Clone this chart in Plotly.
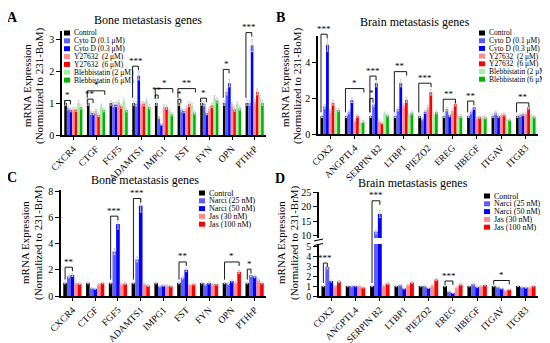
import plotly.graph_objects as go

FONT = "Liberation Serif"
# page body adds an 8px margin, so the figure is drawn 8px smaller and coordinates shifted
OFF = 8
W, H = 550 - OFF, 343 - OFF

bone_genes = ["CXCR4", "CTGF", "FGF5", "ADAMTS1", "IMPG1", "FST", "FYN", "OPN", "PTHrP"]
brain_genes = ["COX2", "ANGPTL4", "SERPIN B2", "LTBP1", "PIEZO2", "EREG", "HBEGF", "ITGAV", "ITGB3"]

ab_series = ["Control", "Cyto D (0.1 μM)", "Cyto D (0.3 μM)", "Y27632  (2 μM)", "Y27632  (6 μM)",
             "Blebbistatin (2 μM)", "Blebbistatin (6 μM)"]
ab_colors = ["#000000", "#5c5cff", "#0000ff", "#ff8c8c", "#ff0000", "#a6f0a6", "#00b400"]
cd_series = ["Control", "Narci (25 nM)", "Narci (50 nM)", "Jas (30 nM)", "Jas (100 nM)"]
cd_colors = ["#000000", "#5c5cff", "#0000ff", "#ff8c8c", "#ff0000"]

# Panel A values (rows = series, cols = genes)
A_values = [
    [1, 1, 1, 1, 1, 1, 1, 1, 1],
    [0.85, 0.70, 0.95, 0.97, 0.55, 0.78, 0.98, 1.35, 1.00],
    [0.78, 0.68, 0.95, 1.85, 0.33, 0.75, 0.68, 1.62, 2.80],
    [0.80, 0.75, 1.02, 0.98, 0.88, 0.85, 0.82, 0.95, 1.05],
    [0.80, 0.62, 0.90, 0.98, 0.87, 0.96, 0.93, 0.80, 1.35],
    [1.00, 0.90, 1.05, 1.05, 0.75, 0.92, 1.15, 0.97, 1.15],
    [0.87, 0.78, 0.78, 0.88, 0.65, 0.70, 1.08, 0.83, 1.00],
]
B_values = [
    [1, 1, 1, 1, 1, 1, 1, 1, 1],
    [1.55, 1.25, 1.65, 1.40, 0.85, 1.40, 1.25, 1.20, 1.05],
    [5.00, 1.90, 2.85, 2.85, 1.25, 1.05, 1.50, 1.00, 1.10],
    [1.30, 0.75, 0.75, 1.60, 1.50, 1.30, 0.90, 1.05, 1.15],
    [1.75, 1.00, 0.62, 1.92, 2.35, 1.70, 0.95, 1.10, 1.50],
    [1.35, 0.55, 1.15, 1.05, 1.05, 0.95, 0.92, 0.78, 1.00],
    [1.35, 0.70, 1.05, 1.20, 1.22, 1.00, 0.92, 0.80, 0.97],
]
C_values = [
    [1, 1, 1, 1, 1, 1, 1, 1, 1],
    [1.50, 0.60, 3.40, 2.80, 0.75, 1.40, 0.90, 0.95, 1.60],
    [1.60, 0.55, 5.50, 6.90, 0.80, 2.00, 1.00, 1.15, 1.50],
    [1.00, 0.90, 0.90, 0.90, 0.80, 0.85, 0.90, 1.00, 1.25],
    [0.95, 1.00, 0.95, 0.80, 0.75, 0.90, 0.90, 1.85, 1.00],
]
D_values = [
    [1, 1, 1, 1, 1, 1, 1, 1, 1],
    [2.90, 1.00, 11.5, 1.10, 1.00, 0.45, 1.20, 0.90, 0.90],
    [1.50, 1.00, 17.5, 0.75, 0.80, 0.30, 0.90, 0.75, 0.85],
    [1.00, 1.00, 1.05, 1.10, 1.05, 0.85, 1.00, 0.55, 0.85],
    [1.45, 0.85, 1.25, 1.35, 1.65, 1.15, 1.10, 0.65, 1.00],
]

# significance: (gene index, from series, to series, bracket height, label)
A_sig = [(0, 0, 2, 1.08, "*"), (1, 0, 2, 1.12, "**"), (1, 0, 6, 1.38, "*"),
         (3, 0, 2, 2.15, "***"), (4, 0, 1, 1.25, "**"), (4, 0, 6, 1.45, "*"),
         (5, 0, 1, 1.12, "*"), (5, 0, 6, 1.45, "**"), (6, 0, 2, 1.15, "*"),
         (7, 0, 2, 2.05, "*"), (8, 0, 2, 3.2, "***")]
B_sig = [(0, 0, 2, 5.6, "***"), (1, 0, 6, 2.55, "*"), (2, 0, 1, 2.0, "*"),
         (2, 0, 2, 3.25, "***"), (3, 0, 4, 3.5, "**"), (4, 0, 4, 2.85, "***"),
         (5, 0, 4, 1.95, "**"), (6, 0, 2, 1.85, "**"), (8, 0, 4, 1.75, "**")]
C_sig = [(0, 0, 2, 2.2, "**"), (2, 0, 2, 6.1, "***"), (3, 0, 2, 7.45, "***"),
         (5, 0, 2, 2.6, "**"), (7, 0, 4, 2.6, "*"), (8, 0, 1, 2.05, "*")]
D_sig = [(0, 0, 1, 3.3, "***"), (2, 0, 2, 22.0, "***"), (5, 0, 2, 1.5, "***"),
         (7, 0, 4, 1.55, "*")]


def px_x(p):
    return (p - OFF) / W


def px_y(p):
    return 1 - (p - OFF) / H


panels = {
    "A": dict(xd=[px_x(62), px_x(266)], yd=[px_y(135), px_y(31)], yr=[0, 3.25],
              n=7, gap=0.1, xa="x", ya="y"),
    "B": dict(xd=[px_x(318), px_x(538)], yd=[px_y(134), px_y(36)], yr=[0, 5.5],
              n=7, gap=0.12, xa="x2", ya="y2"),
    "C": dict(xd=[px_x(61), px_x(266)], yd=[px_y(296), px_y(190)], yr=[0, 8.1],
              n=5, gap=0.2, xa="x3", ya="y3"),
    "D": dict(xd=[px_x(319), px_x(538)], yd=[px_y(296), px_y(244)], yr=[0, 5.2],
              n=5, gap=0.2, xa="x4", ya="y4",
              yd2=[px_y(238), px_y(192)], yr2=[9.3, 25]),
}
XR = [-0.5, 8.5]


def xpaper(pn, cat, j):
    p = panels[pn]
    g, n = p["gap"], p["n"]
    c = cat - (1 - g) / 2 + (j + 0.5) * (1 - g) / n
    f = (c - XR[0]) / (XR[1] - XR[0])
    return p["xd"][0] + f * (p["xd"][1] - p["xd"][0])


def ypaper(pn, v):
    p = panels[pn]
    if "yr2" in p and v > p["yr"][1]:
        d, r = p["yd2"], p["yr2"]
    else:
        d, r = p["yd"], p["yr"]
    return d[0] + (v - r[0]) / (r[1] - r[0]) * (d[1] - d[0])


fig = go.Figure()

for pn, genes, series, colors, vals in [
    ("A", bone_genes, ab_series, ab_colors, A_values),
    ("B", brain_genes, ab_series, ab_colors, B_values),
    ("C", bone_genes, cd_series, cd_colors, C_values),
    ("D", brain_genes, cd_series, cd_colors, D_values),
]:
    p = panels[pn]
    yaxes = [p["ya"]] + (["y5"] if pn == "D" else [])
    for ya in yaxes:
        for s, c, v in zip(series, colors, vals):
            fig.add_trace(go.Bar(
                x=genes, y=v, name=s, marker=dict(color=c, line=dict(width=0)),
                error_y=dict(type="percent", value=7, color="#cccccc", thickness=1, width=1),
                xaxis=p["xa"], yaxis=ya, showlegend=False, offsetgroup=s,
            ))

axis_common = dict(showline=True, linecolor="black", linewidth=1.5, ticks="outside",
                   tickcolor="black", showgrid=False, zeroline=False, automargin=False,
                   tickfont=dict(family=FONT, size=10, color="black"))

layout = dict(
    template="none",
    width=W, height=H, margin=dict(l=0, r=0, t=0, b=0, pad=0),
    plot_bgcolor="white", paper_bgcolor="white", barmode="group", bargroupgap=0,
    font=dict(family=FONT, color="black"), showlegend=False,
)
for pn in "ABCD":
    p = panels[pn]
    xk = "xaxis" + ("" if p["xa"] == "x" else p["xa"][1:])
    yk = "yaxis" + ("" if p["ya"] == "y" else p["ya"][1:])
    layout[xk] = dict(axis_common, domain=p["xd"], anchor=p["ya"], range=XR,
                      tickangle=-45, ticklen=3, tickwidth=1,
                      tickfont=dict(family=FONT, size=9.5, color="black"))
    dt = {"A": 1, "B": 2, "C": 2, "D": 1}[pn]
    layout[yk] = dict(axis_common, domain=p["yd"], anchor=p["xa"], range=p["yr"],
                      dtick=dt, tick0=0, ticklen=4, tickwidth=1)
layout["yaxis5"] = dict(axis_common, domain=panels["D"]["yd2"], anchor="x4",
                        range=panels["D"]["yr2"], tickvals=[10, 15, 20, 25],
                        ticklen=4, tickwidth=1)
fig.update_layout(**layout)

shapes = []
annotations = []

# bracket significance marks
for pn, sig, vals in [("A", A_sig, A_values), ("B", B_sig, B_values),
                      ("C", C_sig, C_values), ("D", D_sig, D_values)]:
    for cat, j0, j1, h, lab in sig:
        x0 = xpaper(pn, cat, j0)
        x1 = xpaper(pn, cat, j1)
        yt = ypaper(pn, h)
        y0 = min(yt - 4 / H, ypaper(pn, vals[j0][cat] * 1.1) + 2 / H)
        y1 = yt - 4 / H
        shapes.append(dict(type="path", xref="paper", yref="paper",
                           path=f"M {x0},{y0} L {x0},{yt} L {x1},{yt} L {x1},{y1}",
                           line=dict(color="black", width=0.9)))
        annotations.append(dict(x=(x0 + x1) / 2, y=yt - 1.5 / H, xref="paper", yref="paper",
                                text=lab, showarrow=False, xanchor="center", yanchor="bottom",
                                font=dict(family=FONT, size=9, color="black")))

# custom legends
legend_pos = {"A": (64, 33, 7.85, 7.5), "B": (479, 33, 7.7, 7.5),
              "C": (199, 193, 7.8, 8), "D": (484, 196, 7.8, 8)}
for pn, series, colors in [("A", ab_series, ab_colors), ("B", ab_series, ab_colors),
                           ("C", cd_series, cd_colors), ("D", cd_series, cd_colors)]:
    lx, ly, dy, fs = legend_pos[pn]
    for k, (s, c) in enumerate(zip(series, colors)):
        yc = ly + k * dy
        shapes.append(dict(type="rect", xref="paper", yref="paper",
                           x0=px_x(lx), x1=px_x(lx + 6), y0=px_y(yc + 2.5), y1=px_y(yc - 2.5),
                           fillcolor=c, line=dict(width=0)))
        annotations.append(dict(x=px_x(lx + 7.5), y=px_y(yc), xref="paper", yref="paper",
                                text=s, showarrow=False, xanchor="left", yanchor="middle",
                                font=dict(family=FONT, size=fs, color="black")))

# titles
for txt, x, y in [("Bone metastasis genes", 148, 20), ("Brain metastasis genes", 415, 22),
                  ("Bone metastasis genes", 145, 180), ("Brain metastasis genes", 413, 183)]:
    annotations.append(dict(x=px_x(x), y=px_y(y), xref="paper", yref="paper", text=txt,
                            showarrow=False, xanchor="center", yanchor="middle",
                            font=dict(family=FONT, size=12, color="black")))
for txt, x, y in [("A", 12, 18), ("B", 280, 18), ("C", 12, 177), ("D", 280, 178)]:
    annotations.append(dict(x=px_x(x), y=px_y(y), xref="paper", yref="paper",
                            text=f"<b>{txt}</b>", showarrow=False, xanchor="center",
                            yanchor="middle", font=dict(family=FONT, size=14, color="black")))
# y axis titles
for l1, l2, x1, x2, yc in [
    ("mRNA Expression", "(Normalized to 231-BoM)", 27, 40, 86),
    ("mRNA Expression", "(Normalized to 231-BoM)", 285, 298, 86),
    ("mRNA Expression", "(Normalized to 231-BrM)", 25, 38, 243),
    ("mRNA Expression", "(Normalized to 231-BrM)", 281, 294, 243),
]:
    for t, x in [(l1, x1), (l2, x2)]:
        annotations.append(dict(x=px_x(x), y=px_y(yc), xref="paper", yref="paper", text=t,
                                textangle=-90, showarrow=False, xanchor="center",
                                yanchor="middle", font=dict(family=FONT, size=11, color="black")))

# axis break marks on panel D
for yb in (240, 244.5):
    shapes.append(dict(type="line", xref="paper", yref="paper",
                       x0=px_x(314), x1=px_x(323), y0=px_y(yb + 1), y1=px_y(yb - 1),
                       line=dict(color="black", width=1.2)))

fig.update_layout(shapes=shapes, annotations=annotations)
fig.write_html("out.html")
